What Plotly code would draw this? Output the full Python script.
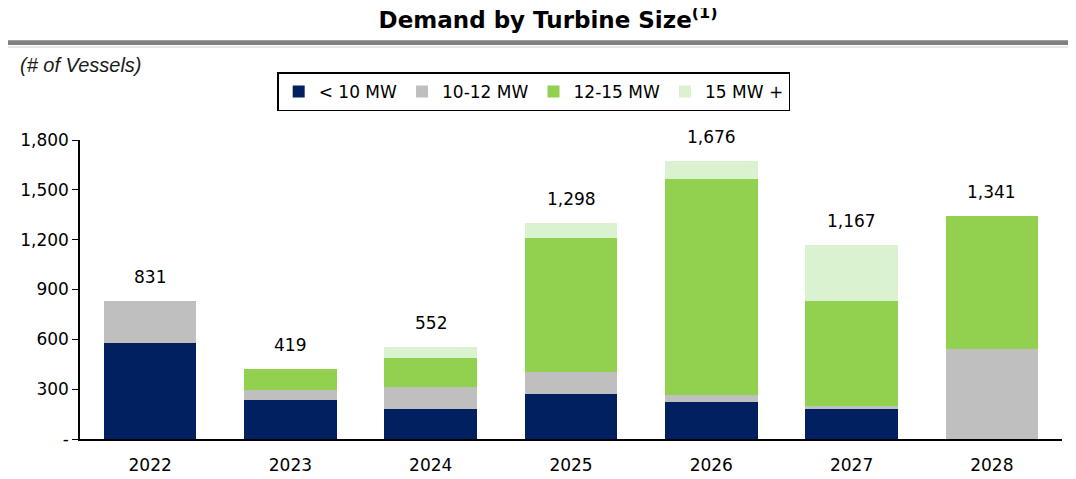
import plotly.graph_objects as go

# data
years = ["2022", "2023", "2024", "2025", "2026", "2027", "2028"]
under_10 = [580, 235, 182, 269, 225, 182, 0]
mw_10_12 = [251, 60, 131, 132, 40, 17, 542]
mw_12_15 = [0, 124, 177, 811, 1302, 630, 799]
mw_15_plus = [0, 0, 62, 86, 109, 338, 0]
series_names = ["< 10 MW", "10-12 MW", "12-15 MW", "15 MW +"]
colors = ["#002060", "#BFBFBF", "#92D050", "#DAF2D0"]
y_tickvals = [0, 300, 600, 900, 1200, 1500, 1800]
y_ticktext = ["-", "300", "600", "900", "1,200", "1,500", "1,800"]

totals = [a + b + c + d for a, b, c, d in zip(under_10, mw_10_12, mw_12_15, mw_15_plus)]

FONT = "DejaVu Sans"

fig = go.Figure()
for name, vals, col in zip(series_names, [under_10, mw_10_12, mw_12_15, mw_15_plus], colors):
    fig.add_trace(go.Bar(x=years, y=vals, name=name, marker_color=col,
                         marker_line_width=0))

# totals above the bars (x as category index so "2022" isn't read as a position)
for i, t in enumerate(totals):
    fig.add_annotation(x=i, y=t, text=f"{t:,}", showarrow=False,
                       yanchor="bottom", yshift=12,
                       font=dict(family=FONT, size=17, color="black"))

# gray rule under the title
fig.add_shape(type="rect", xref="paper", yref="paper",
              x0=-0.1, x1=1.1, y0=1.318, y1=1.334,
              fillcolor="#808080", line_width=0)
fig.add_shape(type="line", xref="paper", yref="paper",
              x0=-0.1, x1=1.1, y0=1.311, y1=1.311,
              line=dict(color="#D0D0D0", width=1))

fig.add_annotation(xref="paper", yref="paper", x=-0.063, y=1.251,
                   xanchor="left", yanchor="middle", showarrow=False,
                   text="<i>(# of Vessels)</i>",
                   font=dict(family="Liberation Sans", size=20, color="#1a1a1a"))

fig.update_layout(
    width=1076, height=479,
    margin=dict(l=70, r=22, t=132, b=48),
    plot_bgcolor="white", paper_bgcolor="white",
    barmode="stack", bargap=0.34,
    title=dict(text="<b>Demand by Turbine Size<sup>(1)</sup></b>",
               x=0.502, xanchor="center", y=0.975, yanchor="middle",
               font=dict(family=FONT, size=23, color="black")),
    legend=dict(orientation="h", x=0.462, xanchor="center", y=1.161, yanchor="middle",
                bordercolor="black", borderwidth=1.5, bgcolor="white",
                font=dict(family=FONT, size=17, color="black"),
                traceorder="normal"),
    xaxis=dict(type="category", range=[-0.5, 6.5], showline=True, linecolor="black",
               linewidth=1.5, ticks="", ticklabelstandoff=10,
               tickfont=dict(family=FONT, size=17, color="black")),
    yaxis=dict(range=[0, 1800], tickvals=y_tickvals, ticktext=y_ticktext,
               showgrid=False, zeroline=False, showline=True, linecolor="black",
               linewidth=1.5, ticks="outside", ticklen=6, tickcolor="black",
               tickfont=dict(family=FONT, size=17, color="black")),
    showlegend=True,
)

fig.write_html("out.html")
